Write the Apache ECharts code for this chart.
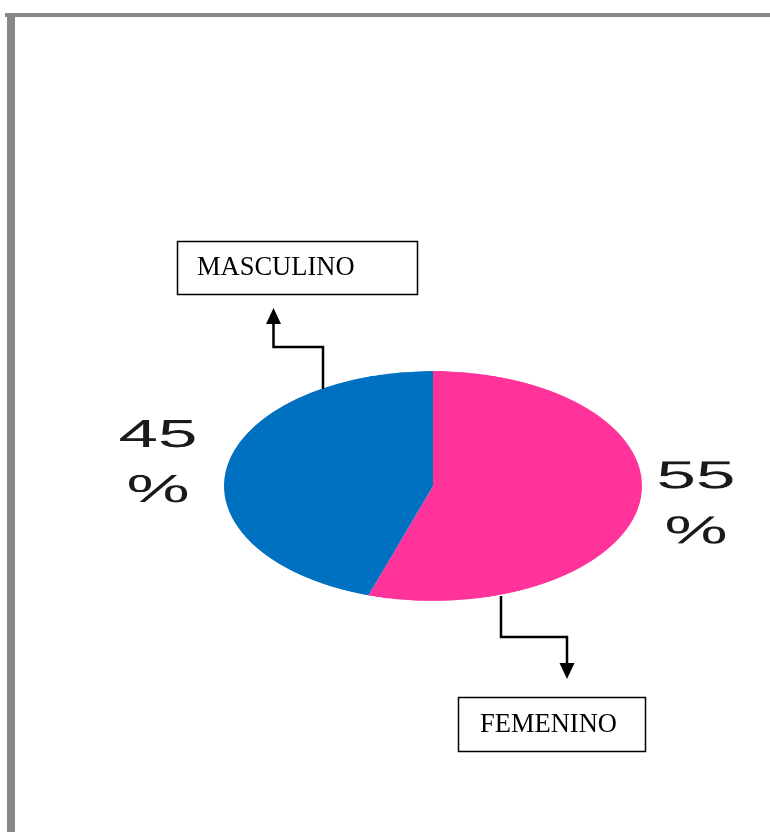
<!DOCTYPE html>
<html>
<head>
<meta charset="utf-8">
<script src="https://cdn.jsdelivr.net/npm/echarts@6/dist/echarts.min.js"></script>
<style>
  html, body { margin: 0; padding: 0; background: #fff; }
  #wrap { position: relative; width: 770px; height: 832px; overflow: hidden; }
  #pie { position: absolute; left: 0; top: 0; width: 770px; transform-origin: 0 0; }
  #notes { position: absolute; left: 0; top: 0; width: 770px; height: 832px; }
</style>
</head>
<body>
<div id="wrap">
  <div id="pie"></div>
  <div id="notes"></div>
</div>
<script>
// datos del grafico
var categories = ['FEMENINO', 'MASCULINO']
var shares = [55, 45]
var sliceColors = ['#FF3399', '#0070C0']

// la torta es una elipse: se aplasta el div en vertical
var SQUASH = 0.55
var labelAnchors = [[696, 505], [158, 464]]

var pieEl = document.getElementById('pie')
pieEl.style.height = (832 / SQUASH) + 'px'
pieEl.style.transform = 'scaleY(' + SQUASH + ')'

var pieChart = echarts.init(pieEl)
pieChart.setOption({
  animation: false,
  series: [{
    type: 'pie',
    silent: true,
    startAngle: 90,
    clockwise: true,
    center: [433, 486 / SQUASH],
    radius: 209,
    data: categories.map(function (name, i) {
      return { name: name, value: shares[i], itemStyle: { color: sliceColors[i] } }
    }),
    label: {
      show: true,
      position: 'outside',
      overflow: 'none',
      formatter: '{d}\n%',
      fontFamily: 'Liberation Sans',
      fontSize: 71,
      lineHeight: 100,
      color: '#1a1a1a'
    },
    labelLine: { show: false },
    labelLayout: function (params) {
      var a = labelAnchors[params.dataIndex]
      return { x: a[0], y: a[1] / SQUASH, align: 'center', verticalAlign: 'middle' }
    }
  }]
})

// cuadros, flechas y marco
var notesChart = echarts.init(document.getElementById('notes'))
var boxText = {
  fontFamily: 'Liberation Serif',
  fontSize: 26.5,
  fill: '#000',
  verticalAlign: 'middle'
}
var lineStyle = { stroke: '#000', lineWidth: 2.5, fill: null }
notesChart.setOption({
  animation: false,
  graphic: [
    { type: 'rect', shape: { x: 5, y: 13, width: 765, height: 4 }, style: { fill: '#888' } },
    { type: 'rect', shape: { x: 7, y: 13, width: 8, height: 819 }, style: { fill: '#888' } },

    { type: 'rect', shape: { x: 177.5, y: 241.5, width: 240, height: 53 }, style: { fill: '#fff', stroke: '#000', lineWidth: 1.5 } },
    { type: 'text', x: 197, y: 268, style: Object.assign({ text: categories[1] }, boxText) },
    { type: 'polyline', shape: { points: [[323, 389], [323, 347], [273.5, 347], [273.5, 322]] }, style: lineStyle },
    { type: 'polygon', shape: { points: [[266, 324], [281, 324], [273.5, 308]] }, style: { fill: '#000' } },

    { type: 'rect', shape: { x: 458.5, y: 697.5, width: 187, height: 54 }, style: { fill: '#fff', stroke: '#000', lineWidth: 1.5 } },
    { type: 'text', x: 480, y: 725, style: Object.assign({ text: categories[0] }, boxText) },
    { type: 'polyline', shape: { points: [[501, 596], [501, 637], [567, 637], [567, 665]] }, style: lineStyle },
    { type: 'polygon', shape: { points: [[559.5, 663], [574.5, 663], [567, 679]] }, style: { fill: '#000' } }
  ]
})
</script>
</body>
</html>
